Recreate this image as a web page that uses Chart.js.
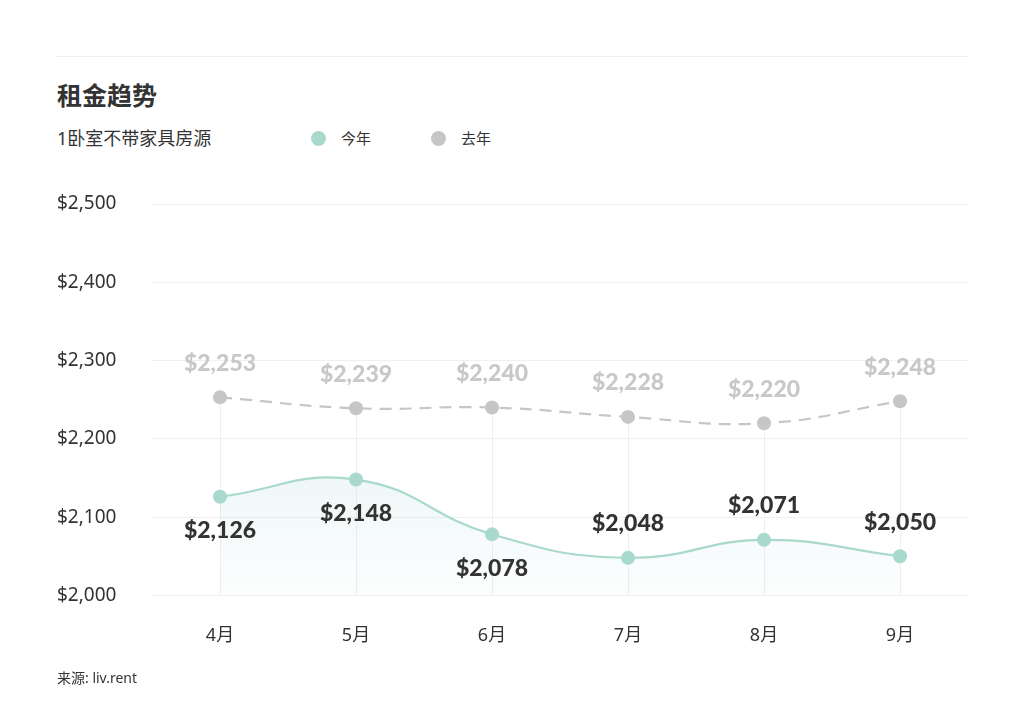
<!DOCTYPE html>
<html lang="zh">
<head>
<meta charset="utf-8">
<title>租金趋势</title>
<script src="https://cdn.jsdelivr.net/npm/chart.js@4"></script>
<style>
  html, body { margin: 0; padding: 0; background: #fff; }
  body { width: 1024px; height: 717px; position: relative; overflow: hidden;
         font-family: "Noto Sans", "Noto Sans CJK SC", sans-serif; color: #333; }
  .sep { position: absolute; left: 57px; top: 56px; width: 910px; height: 1px; background: #eeeeee; }
  .title { position: absolute; left: 57px; top: 78px; font-size: 25px; font-weight: 700;
           font-family: "Noto Sans CJK SC", sans-serif; line-height: 32px; }
  .subtitle { position: absolute; left: 57px; top: 126px; font-size: 18px; line-height: 24px;
              font-family: "Noto Sans", "Noto Sans CJK SC", sans-serif; }
  #legend { position: absolute; left: 311px; top: 128px; display: flex; font-size: 15px;
            line-height: 20px; font-family: "Noto Sans CJK SC", sans-serif; }
  #legend .item { display: flex; align-items: center; width: 120px; }
  #legend .dot { width: 15px; height: 15px; border-radius: 50%; margin-right: 15px; }
  .source { position: absolute; left: 57px; top: 668px; font-size: 14px; line-height: 20px;
            font-family: "Noto Sans", "Noto Sans CJK SC", sans-serif; }
  .wrap { position: absolute; left: 57px; top: 192px; width: 920px; height: 477px; }
</style>
</head>
<body>
<div class="sep"></div>
<div class="title">租金趋势</div>
<div class="subtitle">1卧室不带家具房源</div>
<div id="legend"></div>
<div class="wrap"><canvas id="rentChart"></canvas></div>
<div class="source">来源: liv.rent</div>
<script>
// 数据
const months = ['4月', '5月', '6月', '7月', '8月', '9月'];
const thisYear = [2126, 2148, 2078, 2048, 2071, 2050];
const lastYear = [2253, 2239, 2240, 2228, 2220, 2248];
const yTicks = [2000, 2100, 2200, 2300, 2400, 2500];

const teal = '#a9d9cd';
const grey = '#c6c6c6';

// 今年数据标签：上方或下方
const thisYearLabelSide = ['below', 'below', 'below', 'above', 'above', 'above'];

const fmt = v => '$' + v.toLocaleString('en-US');

// 从去年的点往下画竖线，并画数值标签
const pointExtras = {
  id: 'pointExtras',
  beforeDatasetsDraw(chart) {
    const { ctx, chartArea } = chart;
    const metaLast = chart.getDatasetMeta(1);
    ctx.save();
    ctx.strokeStyle = '#eeeeee';
    ctx.lineWidth = 1;
    metaLast.data.forEach(pt => {
      ctx.beginPath();
      ctx.moveTo(Math.round(pt.x) + 0.5, pt.y);
      ctx.lineTo(Math.round(pt.x) + 0.5, chartArea.bottom);
      ctx.stroke();
    });
    ctx.restore();
  },
  afterDatasetsDraw(chart) {
    const { ctx } = chart;
    ctx.save();
    ctx.textAlign = 'center';
    ctx.textBaseline = 'middle';
    ctx.font = '900 23px Lato, "Noto Sans", sans-serif';

    chart.getDatasetMeta(1).data.forEach((pt, i) => {
      ctx.fillStyle = '#c8c8c8';
      ctx.fillText(fmt(lastYear[i]), pt.x, pt.y - 34);
    });
    chart.getDatasetMeta(0).data.forEach((pt, i) => {
      ctx.fillStyle = '#333333';
      const dy = thisYearLabelSide[i] === 'above' ? -34 : 34;
      ctx.fillText(fmt(thisYear[i]), pt.x, pt.y + dy);
    });
    ctx.restore();
  }
};

const ctx = document.getElementById('rentChart').getContext('2d');

const chart = new Chart(ctx, {
  type: 'line',
  data: {
    labels: months,
    datasets: [
      {
        label: '今年',
        data: thisYear,
        borderColor: teal,
        backgroundColor: teal,
        borderWidth: 2.2,
        pointRadius: 7,
        pointHoverRadius: 7,
        pointBackgroundColor: teal,
        pointBorderWidth: 0,
        tension: 0.45,
        fill: {
          target: 'origin',
          above: (context) => {
            const { chartArea } = context.chart;
            if (!chartArea) return 'rgba(190,225,225,0.15)';
            const g = context.chart.ctx.createLinearGradient(0, chartArea.top + 260, 0, chartArea.bottom);
            g.addColorStop(0, 'rgba(180,220,215,0.25)');
            g.addColorStop(1, 'rgba(200,225,235,0.05)');
            return g;
          }
        }
      },
      {
        label: '去年',
        data: lastYear,
        borderColor: grey,
        backgroundColor: grey,
        borderWidth: 2.2,
        borderDash: [12, 8],
        pointRadius: 7,
        pointHoverRadius: 7,
        pointBackgroundColor: grey,
        pointBorderWidth: 0,
        tension: 0.45,
        fill: false
      }
    ]
  },
  options: {
    responsive: true,
    maintainAspectRatio: false,
    animation: false,
    layout: { padding: { top: 12, right: 9, bottom: 0, left: 0 } },
    plugins: {
      legend: { display: false },
      tooltip: { enabled: false }
    },
    scales: {
      x: {
        offset: true,
        grid: { display: false },
        border: { display: false },
        ticks: {
          color: '#333',
          padding: 22,
          font: { size: 18, family: '"Noto Sans", "Noto Sans CJK SC", sans-serif' }
        }
      },
      y: {
        min: yTicks[0],
        max: yTicks[yTicks.length - 1],
        afterBuildTicks: scale => { scale.ticks = yTicks.map(v => ({ value: v })); },
        afterFit: scale => { scale.width = 95; },
        grid: { color: '#f0f0f0', drawTicks: false },
        border: { display: false },
        ticks: {
          color: '#333',
          crossAlign: 'far',
          padding: 0,
          font: { size: 19, family: '"Noto Sans", sans-serif' },
          callback: v => fmt(v)
        }
      }
    }
  },
  plugins: [pointExtras]
});

// 图例
const legendEl = document.getElementById('legend');
chart.data.datasets.forEach(ds => {
  const item = document.createElement('div');
  item.className = 'item';
  item.innerHTML = '<span class="dot" style="background:' + ds.backgroundColor + '"></span><span>' + ds.label + '</span>';
  legendEl.appendChild(item);
});
</script>
</body>
</html>
